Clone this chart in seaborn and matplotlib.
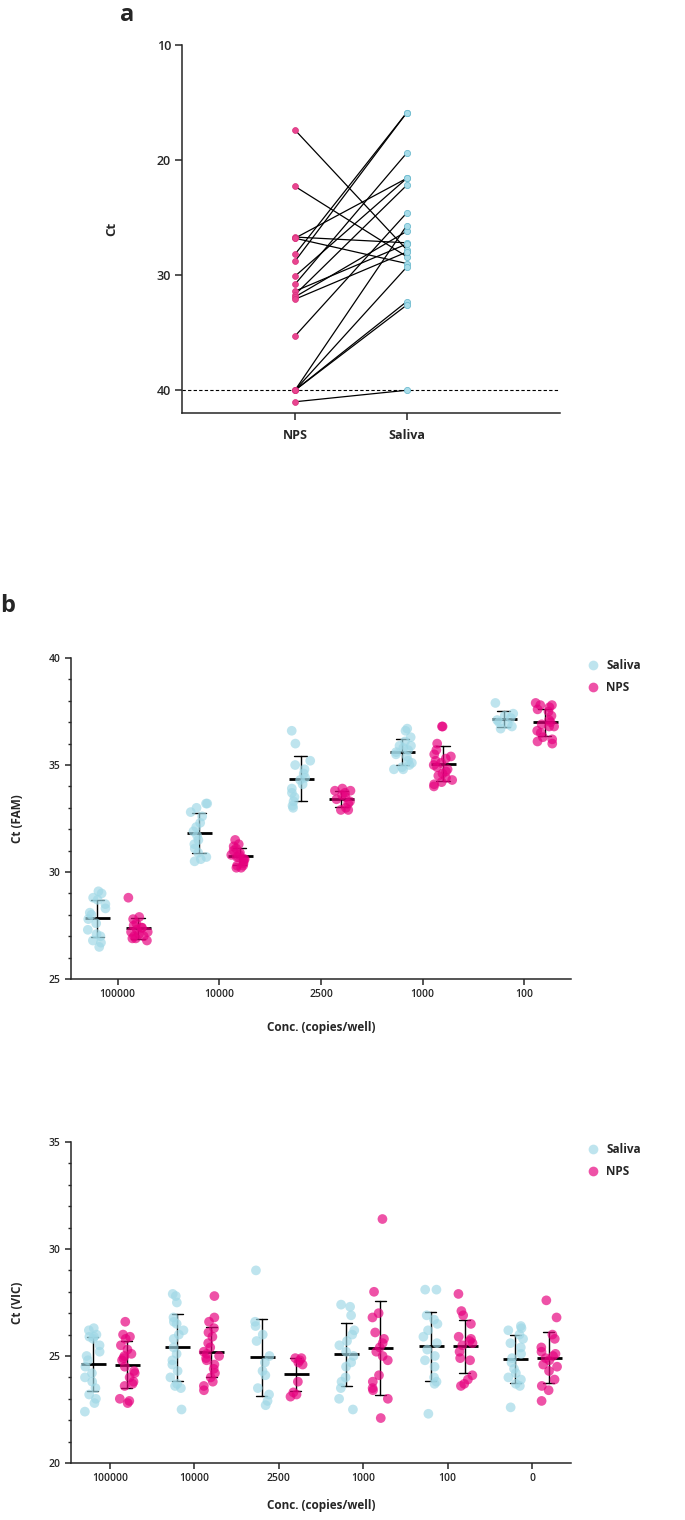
import numpy as np
import pandas as pd
import matplotlib
matplotlib.use('Agg')
import matplotlib.pyplot as plt
from matplotlib.ticker import MultipleLocator
import seaborn as sns

# Panel a: paired Ct values (NPS -> Saliva), one entry per sample
pair_nps = [17.4, 22.3, 26.7, 26.8, 26.8, 28.2, 28.8, 30.1, 30.8, 31.4,
            31.7, 31.9, 32.1, 35.3, 40.0, 40.0, 40.0, 40.0, 41.0]
pair_saliva = [27.8, 28.4, 27.2, 21.6, 29.0, 15.9, 15.9, 21.6, 19.4, 27.3,
               22.2, 26.2, 28.0, 24.6, 25.7, 29.3, 32.3, 32.6, 40.0]

# Panel b (top): Ct (FAM) per concentration
conc_fam = ['100000', '10000', '2500', '1000', '100']
fam_saliva = [
    [29.1, 29.0, 28.8, 28.7, 28.5, 28.3, 28.1, 28.0, 27.8, 27.6, 27.3, 27.1, 27.0, 26.8, 26.7, 26.5],
    [33.2, 33.2, 33.0, 32.8, 32.6, 32.3, 32.1, 31.9, 31.7, 31.5, 31.3, 31.1, 30.9, 30.7, 30.6, 30.5],
    [36.6, 36.0, 35.2, 35.0, 34.8, 34.6, 34.4, 34.3, 34.1, 33.9, 33.7, 33.5, 33.3, 33.1, 33.0],
    [36.7, 36.6, 36.3, 36.1, 35.9, 35.8, 35.6, 35.5, 35.4, 35.2, 35.1, 35.0, 34.8, 34.8, 34.9, 35.9, 35.7],
    [37.9, 37.4, 37.3, 37.2, 37.1, 37.0, 36.9, 36.8, 36.7],
]
fam_nps = [
    [28.8, 27.9, 27.8, 27.6, 27.5, 27.4, 27.3, 27.2, 27.1, 27.0, 27.0, 26.9, 26.9, 26.8, 27.2, 27.4],
    [31.5, 31.3, 31.2, 31.0, 30.9, 30.8, 30.8, 30.7, 30.6, 30.6, 30.5, 30.4, 30.3, 30.3, 30.2, 30.2, 31.1, 30.7],
    [33.9, 33.8, 33.8, 33.7, 33.6, 33.5, 33.4, 33.3, 33.2, 33.0, 32.9, 32.9],
    [36.8, 36.8, 36.0, 35.7, 35.5, 35.4, 35.3, 35.2, 35.1, 35.0, 34.9, 34.8, 34.7, 34.6, 34.5, 34.4, 34.3, 34.2, 34.1, 34.0],
    [37.9, 37.8, 37.8, 37.7, 37.6, 37.5, 37.3, 37.1, 36.9, 36.8, 36.6, 36.5, 36.3, 36.2, 36.1, 36.0, 37.0, 36.8],
]

# Panel b (bottom): Ct (VIC) per concentration
conc_vic = ['100000', '10000', '2500', '1000', '100', '0']
vic_saliva = [
    [26.3, 26.0, 25.9, 25.8, 25.5, 25.2, 25.0, 24.8, 24.5, 24.2, 24.0, 23.8, 23.5, 23.2, 23.0, 22.8, 22.4, 25.9, 26.2],
    [27.9, 27.8, 27.5, 26.8, 26.6, 26.5, 26.2, 26.0, 25.8, 25.4, 25.1, 24.8, 24.6, 24.3, 24.0, 23.7, 23.6, 23.5, 22.5],
    [29.0, 26.6, 26.4, 26.0, 25.7, 25.0, 24.7, 24.3, 24.1, 23.5, 23.2, 22.9, 22.7],
    [27.4, 27.3, 26.9, 26.2, 26.0, 25.7, 25.5, 25.2, 25.0, 24.7, 24.5, 24.0, 23.8, 23.5, 23.0, 22.5],
    [28.1, 28.1, 26.9, 26.7, 26.5, 26.2, 25.9, 25.6, 25.3, 25.0, 24.8, 24.0, 23.8, 23.7, 22.3, 24.5],
    [26.4, 26.3, 26.2, 25.6, 25.4, 25.1, 24.9, 24.7, 24.4, 24.2, 24.0, 23.9, 23.7, 23.6, 22.6, 25.8, 26.0],
]
vic_nps = [
    [26.6, 26.0, 25.9, 25.8, 25.5, 25.3, 25.1, 24.9, 24.8, 24.5, 24.3, 24.2, 24.0, 23.8, 23.7, 23.6, 23.0, 22.9, 22.8, 25.0],
    [27.8, 26.8, 26.6, 26.3, 26.1, 25.9, 25.6, 25.4, 25.2, 25.1, 25.0, 24.8, 24.6, 24.4, 24.2, 24.0, 23.8, 23.6, 23.4, 24.9],
    [24.9, 24.9, 24.8, 24.7, 24.6, 23.8, 23.3, 23.2, 23.1],
    [31.4, 28.0, 27.0, 26.8, 26.1, 25.8, 25.6, 25.4, 25.2, 25.0, 24.8, 24.1, 23.8, 23.5, 23.4, 23.0, 22.1],
    [27.9, 27.1, 26.9, 26.5, 25.9, 25.8, 25.7, 25.6, 25.5, 25.2, 24.9, 24.8, 24.1, 23.9, 23.7, 23.6],
    [27.6, 26.8, 26.0, 25.8, 25.4, 25.2, 25.0, 24.9, 24.8, 24.6, 24.5, 24.3, 23.9, 23.6, 23.4, 22.9, 25.1],
]

PINK = '#e6007e'
CYAN = '#9fd8e6'
PINK_A = '#e8458f'
CYAN_A = '#a8dce9'

sns.set_style('ticks')
plt.rcParams['font.family'] = ['Open Sans', 'DejaVu Sans']
plt.rcParams['axes.linewidth'] = 1.1
plt.rcParams['xtick.major.width'] = 1.1
plt.rcParams['ytick.major.width'] = 1.1
plt.rcParams['ytick.minor.width'] = 1.0


def long_table(concs, saliva, nps):
    rows = []
    for c, s_vals, n_vals in zip(concs, saliva, nps):
        rows += [(c, 'Saliva', v) for v in s_vals]
        rows += [(c, 'NPS', v) for v in n_vals]
    return pd.DataFrame(rows, columns=['conc', 'sample', 'ct'])


def dot_panel(ax, df, concs, ylim, ylabel, xlab_y):
    np.random.seed(3)
    sns.stripplot(data=df, x='conc', y='ct', hue='sample', order=concs,
                  hue_order=['Saliva', 'NPS'], palette=[CYAN, PINK], dodge=True,
                  jitter=0.2, size=7, alpha=0.68, linewidth=0, ax=ax)
    sns.pointplot(data=df, x='conc', y='ct', hue='sample', order=concs,
                  hue_order=['Saliva', 'NPS'], palette=['k', 'k'], dodge=0.4,
                  errorbar='sd', capsize=0.13, markers='_', linestyle='none',
                  markersize=18, markeredgewidth=2.0, err_kws={'linewidth': 1.0},
                  legend=False, ax=ax)
    ax.set_ylim(*ylim)
    ax.set_xlim(-0.46, len(concs) - 0.54)
    ax.yaxis.set_major_locator(MultipleLocator(5))
    ax.yaxis.set_minor_locator(MultipleLocator(1))
    ax.tick_params(axis='both', labelsize=7.5, length=4.5, pad=3)
    ax.tick_params(axis='y', which='minor', length=2.5)
    for lab in ax.get_xticklabels() + ax.get_yticklabels():
        lab.set_fontweight('semibold')
    ax.set_xlabel('Conc. (copies/well)', fontsize=8.5, fontweight='bold')
    ax.set_ylabel(ylabel, fontsize=8.5, fontweight='bold')
    ax.xaxis.set_label_coords(0.5, xlab_y)
    ax.yaxis.set_label_coords(-0.094, 0.5)
    sns.despine(ax=ax)
    sns.move_legend(ax, 'upper left', bbox_to_anchor=(1.0, 1.03), frameon=False,
                    title=None, prop={'weight': 'bold', 'size': 8.5},
                    handletextpad=0.1, labelspacing=0.8, markerscale=1.0)


fig = plt.figure(figsize=(6.85, 15.2), dpi=100)

# ---- panel a ----
ax_a = fig.add_axes([0.2657, 0.7281, 0.5518, 0.2425])
n = len(pair_nps)
df_a = pd.DataFrame({
    'pair': list(range(n)) * 2,
    'sample': ['NPS'] * n + ['Saliva'] * n,
    'ct': pair_nps + pair_saliva,
})
ax_a.axhline(40, color='k', ls=(0, (3, 2)), lw=0.8, zorder=1)
sns.lineplot(data=df_a, x='sample', y='ct', units='pair', estimator=None,
             color='k', lw=0.9, ax=ax_a, zorder=2)
sns.scatterplot(data=df_a[df_a['sample'] == 'NPS'], x='sample', y='ct',
                color=PINK_A, edgecolor='#d8307c', linewidth=0.5, s=18, ax=ax_a, zorder=3)
sns.scatterplot(data=df_a[df_a['sample'] == 'Saliva'], x='sample', y='ct',
                color=CYAN_A, edgecolor='#6fbcd0', linewidth=0.6, s=20, ax=ax_a, zorder=3)
ax_a.set_ylim(42, 10)
ax_a.set_xlim(-1.01, 2.37)
ax_a.set_yticks([10, 20, 30, 40])
ax_a.tick_params(axis='both', labelsize=9, length=5, pad=3)
ax_a.tick_params(axis='x', pad=6)
for lab in ax_a.get_xticklabels():
    lab.set_fontweight('bold')
for lab in ax_a.get_yticklabels():
    lab.set_fontweight('semibold')
ax_a.set_xlabel('')
ax_a.set_ylabel('Ct', fontsize=9.5, fontweight='bold')
ax_a.yaxis.set_label_coords(-0.169, 0.5)
sns.despine(ax=ax_a)

# ---- panel b ----
ax_b1 = fig.add_axes([0.1036, 0.3559, 0.7299, 0.2112])
dot_panel(ax_b1, long_table(conc_fam, fam_saliva, fam_nps), conc_fam, (25, 40),
          'Ct (FAM)', -0.13)

ax_b2 = fig.add_axes([0.1036, 0.0375, 0.7299, 0.2112])
dot_panel(ax_b2, long_table(conc_vic, vic_saliva, vic_nps), conc_vic, (20, 35),
          'Ct (VIC)', -0.112)

fig.text(127 / 685, 1 - 15 / 1520, 'a', fontsize=17, fontweight='bold', ha='center', va='center')
fig.text(8 / 685, 1 - 606 / 1520, 'b', fontsize=17, fontweight='bold', ha='center', va='center')

fig.savefig('out.png', dpi=100)
